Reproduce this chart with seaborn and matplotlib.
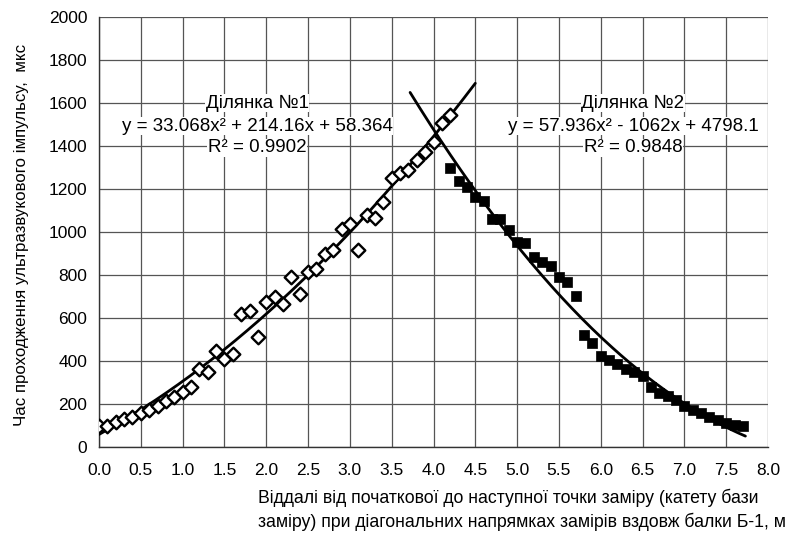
import numpy as np
import pandas as pd
import matplotlib
matplotlib.use("Agg")
import matplotlib.pyplot as plt
import seaborn as sns

# ---- data ----
x1 = [0.0, 0.1, 0.2, 0.3, 0.4, 0.5, 0.6, 0.7, 0.8, 0.9, 1.0, 1.1, 1.2, 1.3, 1.4,
      1.5, 1.6, 1.7, 1.8, 1.9, 2.0, 2.1, 2.2, 2.3, 2.4, 2.5, 2.6, 2.7, 2.8, 2.9,
      3.0, 3.1, 3.2, 3.3, 3.4, 3.5, 3.6, 3.7, 3.8, 3.9, 4.0, 4.1, 4.2]
y1 = [100, 100, 118, 129, 138, 157, 172, 191, 215, 234, 257, 278, 361, 350, 445,
      408, 432, 617, 634, 512, 676, 696, 665, 792, 712, 815, 828, 898, 916, 1015,
      1038, 916, 1079, 1065, 1141, 1250, 1273, 1288, 1335, 1373, 1420, 1505, 1544]

x2 = [4.2, 4.3, 4.4, 4.5, 4.6, 4.7, 4.8, 4.9, 5.0, 5.1, 5.2, 5.3, 5.4, 5.5, 5.6,
      5.7, 5.8, 5.9, 6.0, 6.1, 6.2, 6.3, 6.4, 6.5, 6.6, 6.7, 6.8, 6.9, 7.0, 7.1,
      7.2, 7.3, 7.4, 7.5, 7.6, 7.7]
y2 = [1296, 1239, 1208, 1164, 1146, 1060, 1060, 1009, 955, 950, 885, 862, 842, 789, 769,
      704, 521, 485, 423, 405, 386, 361, 350, 330, 278, 253, 237, 219, 191, 172,
      157, 141, 126, 113, 102, 98]

# trendline coefficients (as displayed on chart) and ranges
coef1 = [33.068, 214.16, 58.364]
range1 = [0.0, 4.5]
coef2 = [57.936, -1062.0, 4798.1]
range2 = [3.72, 7.73]

x_ticks = [0.0, 0.5, 1.0, 1.5, 2.0, 2.5, 3.0, 3.5, 4.0, 4.5, 5.0, 5.5, 6.0, 6.5, 7.0, 7.5, 8.0]
y_ticks = [0, 200, 400, 600, 800, 1000, 1200, 1400, 1600, 1800, 2000]

label1 = ["Ділянка №1", "y = 33.068x² + 214.16x + 58.364", "R² = 0.9902"]
label2 = ["Ділянка №2", "y = 57.936x² - 1062x + 4798.1", "R² = 0.9848"]
xlabel = ("Віддалі від початкової до наступної точки заміру (катету бази\n"
          "заміру) при діагональних напрямках замірів вздовж балки Б-1, м")
ylabel = "Час проходження ультразвукового імпульсу,  мкс"

# ---- style ----
sns.set_theme(style="white")
plt.rcParams['font.family'] = ['Liberation Sans', 'DejaVu Sans']

fig = plt.figure(figsize=(8.0, 5.41), dpi=100)
ax = fig.add_axes([99/800, 1-447/541, (768-99)/800, (447-17)/541])

df1 = pd.DataFrame({"x": x1, "y": y1})
df2 = pd.DataFrame({"x": x2, "y": y2})

xs1 = np.linspace(range1[0], range1[1], 200)
ys1 = np.polyval(coef1, xs1)
xs2 = np.linspace(range2[0], range2[1], 200)
ys2 = np.polyval(coef2, xs2)

sns.lineplot(x=xs1, y=ys1, ax=ax, color="black", lw=2.0, zorder=3, sort=False)
sns.lineplot(x=xs2, y=ys2, ax=ax, color="black", lw=2.0, zorder=3, sort=False)

sns.scatterplot(data=df1, x="x", y="y", ax=ax, marker="D", s=48,
                facecolor="white", edgecolor="black", linewidth=1.7, zorder=4)
sns.scatterplot(data=df2, x="x", y="y", ax=ax, marker="s", s=58,
                color="black", edgecolor="black", linewidth=0.5, zorder=4)

ax.set_xlim(0, 8)
ax.set_ylim(0, 2000)
ax.set_xticks(x_ticks)
ax.set_xticklabels([f"{v:.1f}" for v in x_ticks])
ax.set_yticks(y_ticks)
ax.set_yticklabels([str(v) for v in y_ticks])
ax.tick_params(axis="both", labelsize=12.5, direction="inout", length=7, width=0.9,
               color="#333333", pad=5, labelcolor="black")
ax.tick_params(axis="x", pad=8)
ax.grid(True, color="#555555", lw=0.9, ls="-")
ax.set_axisbelow(True)
for s in ["top", "right"]:
    ax.spines[s].set_visible(False)
for s in ["left", "bottom"]:
    ax.spines[s].set_color("#333333")
    ax.spines[s].set_linewidth(1.0)
ax.set_xlabel("")
ax.set_ylabel("")

# annotations
for lbl, xc in [(label1, 257), (label2, 633)]:
    for txt, yp in zip(lbl, [103, 126, 148]):
        fig.text(xc/800, 1-yp/541, txt, ha="center", va="center", fontsize=13.5,
                 color="black",
                 bbox=dict(facecolor="white", edgecolor="none", pad=0.5))

fig.text(258/800, 1-510/541, xlabel, ha="left", va="center", fontsize=12.7,
         linespacing=1.35, color="black")
fig.text(22/800, 1-235/541, ylabel, ha="center", va="center", rotation=90,
         fontsize=12.2, color="black")

fig.savefig("out.png", dpi=100, facecolor="white")
